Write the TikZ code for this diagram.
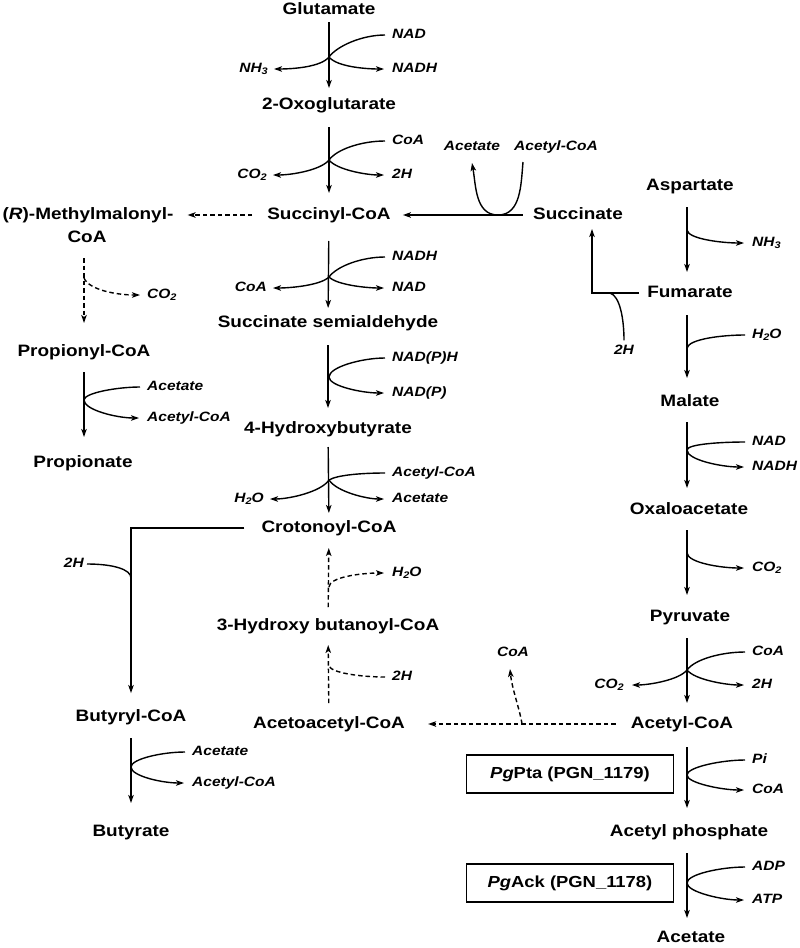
\documentclass[tikz,border=0pt]{standalone}
\usepackage{fontspec}
\setmainfont{Liberation Sans}[FakeStretch=1.15]
\usetikzlibrary{arrows.meta,calc}
\newcommand\sbs[1]{\raisebox{-2.2pt}{\fontsize{9.5}{10}\selectfont #1}}
\begin{document}
\begin{tikzpicture}[x=1pt,y=1pt,
  met/.style={font=\fontsize{16.5}{18}\selectfont\bfseries, inner sep=0pt, text height=12pt, text depth=3.5pt},
  lab/.style={font=\fontsize{13.5}{15}\selectfont\bfseries\itshape, inner sep=0pt, text height=10pt, text depth=3pt},
  rl/.style={lab, anchor=west},
  ll/.style={lab, anchor=east},
  ln/.style={line width=1.4pt},
  rx/.style={ln, -{Stealth[length=8pt,width=5.5pt,inset=2pt]}},
  dsh/.style={dash pattern=on 4.5pt off 3pt},
  enzbox/.style={draw, line width=1.1pt, minimum width=207pt, minimum height=38pt, inner sep=0pt,
     font=\fontsize{16}{18}\selectfont\bfseries}
]
\fill[white] (0,0) rectangle (800,-948);
\useasboundingbox (0,0) rectangle (800,-948);

% ---------- metabolites ----------
\node[met] (glu)   at (329,-10)  {Glutamate};
\node[met] (oxo)   at (329,-105) {2-Oxoglutarate};
\node[met] (scoa)  at (329,-215) {Succinyl-CoA};
\node[met] (ssa)   at (328,-323) {Succinate semialdehyde};
\node[met] (hb)    at (328,-429) {4-Hydroxybutyrate};
\node[met] (cro)   at (329,-528) {Crotonoyl-CoA};
\node[met] (hbc)   at (328,-626) {3-Hydroxy butanoyl-CoA};
\node[met] (aca)   at (329,-724) {Acetoacetyl-CoA};
\node[met] (mm)    at (88,-215)  {(\textit{R})-Methylmalonyl-};
\node[met] (mmc)   at (87,-238)  {CoA};
\node[met] (prop)  at (84,-352)  {Propionyl-CoA};
\node[met] (propt) at (83,-463)  {Propionate};
\node[met] (buco)  at (131,-717) {Butyryl-CoA};
\node[met] (buty)  at (131,-832) {Butyrate};
\node[met] (succ)  at (578,-215) {Succinate};
\node[met] (asp)   at (690,-186) {Aspartate};
\node[met] (fum)   at (690,-293) {Fumarate};
\node[met] (mal)   at (690,-402) {Malate};
\node[met] (oxa)   at (689,-510) {Oxaloacetate};
\node[met] (pyr)   at (690,-617) {Pyruvate};
\node[met] (acoa)  at (682,-724) {Acetyl-CoA};
\node[met] (acp)   at (689,-832) {Acetyl phosphate};
\node[met] (acet)  at (691,-938) {Acetate};

\node[enzbox] (pta) at (570,-774) {\textit{Pg}Pta (PGN\_1179)};
\node[enzbox] (ack) at (570,-883) {\textit{Pg}Ack (PGN\_1178)};

% ---------- side labels ----------
\node[rl] (l1a) at (392,-35)  {NAD};
\node[rl] (l1b) at (392,-69)  {NADH};
\node[ll] (l1c) at (268,-69)  {NH\sbs{3}};
\node[rl] (l2a) at (392,-141) {CoA};
\node[rl] (l2b) at (392,-175) {2H};
\node[ll] (l2c) at (267,-175) {CO\sbs{2}};
\node[rl] (l3a) at (392,-257) {NADH};
\node[rl] (l3b) at (392,-288) {NAD};
\node[ll] (l3c) at (267,-288) {CoA};
\node[rl] (l4a) at (392,-358) {NAD(P)H};
\node[rl] (l4b) at (392,-393) {NAD(P)};
\node[rl] (l5a) at (392,-473) {Acetyl-CoA};
\node[rl] (l5b) at (392,-499) {Acetate};
\node[ll] (l5c) at (264,-499) {H\sbs{2}O};
\node[rl] (l6)  at (392,-573) {H\sbs{2}O};
\node[rl] (l7)  at (392,-677) {2H};
\node[rl] (l8)  at (147,-295) {CO\sbs{2}};
\node[rl] (l9a) at (147,-387) {Acetate};
\node[rl] (l9b) at (147,-418) {Acetyl-CoA};
\node[rl] (l10a) at (192,-752) {Acetate};
\node[rl] (l10b) at (192,-783) {Acetyl-CoA};
\node[rl] (l11) at (752,-243) {NH\sbs{3}};
\node[rl] (l12) at (752,-335) {H\sbs{2}O};
\node[rl] (l13a) at (752,-442) {NAD};
\node[rl] (l13b) at (752,-467) {NADH};
\node[rl] (l14) at (752,-568) {CO\sbs{2}};
\node[rl] (l15a) at (752,-652) {CoA};
\node[rl] (l15b) at (752,-685) {2H};
\node[ll] (l15c) at (624,-685) {CO\sbs{2}};
\node[rl] (l16a) at (752,-760) {Pi};
\node[rl] (l16b) at (752,-790) {CoA};
\node[rl] (l17a) at (752,-867) {ADP};
\node[rl] (l17b) at (752,-900) {ATP};
\node[lab] (lua) at (472,-147) {Acetate};
\node[lab] (lub) at (556,-147) {Acetyl-CoA};
\node[lab] (lcoa) at (513,-653) {CoA};
\node[ll] (l2hb) at (84,-564) {2H};
\node[lab] (l2hf) at (624,-351) {2H};

% ---------- helper coordinates ----------
\coordinate (rc) at (687,0);
\coordinate (b1) at (329,-57);
\coordinate (b2) at (329,-160);
\coordinate (b3) at (329,-277);
\coordinate (b4) at (329,-377);
\coordinate (b5) at (329,-480);
\coordinate (b6) at (329,-587);
\coordinate (b7) at (329,-665);
\coordinate (b8) at (84,-278);
\coordinate (b9) at (84,-400);
\coordinate (b10) at (131,-767);
\coordinate (b11) at (687,-230);
\coordinate (b12) at (687,-348);
\coordinate (b13) at (687,-450);
\coordinate (b14) at (687,-553);
\coordinate (b15) at (687,-670);
\coordinate (b16) at (687,-775);
\coordinate (b17) at (687,-883);
\coordinate (bb) at (131,-578);
\coordinate (fc) at (592,-293);
\coordinate (bf) at (610,-293);
\coordinate (ua) at (523,-162);
\coordinate (ub) at (498,-215);
\coordinate (uc) at (472,-163);
\coordinate (bcoa) at (522,-724);
\coordinate (tcoa) at (510,-669);

% ---------- centre column ----------
\draw[rx, shorten <=12pt, shorten >=17pt] (glu.center) -- (oxo.center);
\draw[ln, shorten <=7pt] (l1a.west) .. controls +(-30,0) and +(8,11) .. (b1);
\draw[rx, shorten >=6pt] (b1) .. controls +(-8,-10) and +(25,0) .. (l1c.east);
\draw[rx, shorten >=8pt] (b1) .. controls +(8,-10) and +(-25,0) .. (l1b.west);

\draw[rx, shorten <=22pt, shorten >=22pt] (oxo.center) -- (scoa.center);
\draw[ln, shorten <=7pt] (l2a.west) .. controls +(-30,0) and +(8,11) .. (b2);
\draw[rx, shorten >=6pt] (b2) .. controls +(-8,-10) and +(25,0) .. (l2c.east);
\draw[rx, shorten >=8pt] (b2) .. controls +(8,-10) and +(-25,0) .. (l2b.west);

\draw[rx, shorten <=26pt, shorten >=15pt] (scoa.center) -- (ssa.center);
\draw[ln, shorten <=7pt] (l3a.west) .. controls +(-30,0) and +(8,11) .. (b3);
\draw[rx, shorten >=6pt] (b3) .. controls +(-8,-8) and +(25,0) .. (l3c.east);
\draw[rx, shorten >=8pt] (b3) .. controls +(8,-8) and +(-25,0) .. (l3b.west);

\draw[rx, shorten <=22pt, shorten >=21pt] (ssa.center) -- (hb.center);
\draw[rx, shorten <=7pt, shorten >=8pt] (l4a.west) .. controls +(-30,0) and +(0,10) .. (b4) .. controls +(0,-9) and +(-30,0) .. (l4b.west);

\draw[rx, shorten <=18pt, shorten >=15pt] (hb.center) -- (cro.center);
\draw[ln, shorten <=7pt] (l5a.west) .. controls +(-30,0) and +(8,5) .. (b5);
\draw[rx, shorten >=6pt] (b5) .. controls +(-8,-12) and +(25,0) .. (l5c.east);
\draw[rx, shorten >=8pt] (b5) .. controls +(8,-12) and +(-25,0) .. (l5b.west);

\draw[rx, dsh, shorten <=19pt, shorten >=20pt] (hbc.center) -- (cro.center);
\draw[rx, dsh, shorten >=8pt] (b6) .. controls +(0,10) and +(-30,0) .. (l6.west);

\draw[rx, dsh, shorten <=21pt, shorten >=19pt] (aca.center) -- (hbc.center);
\draw[ln, dsh, shorten <=7pt] (l7.west) .. controls +(-30,0) and +(0,-8) .. (b7);

% ---------- horizontal links ----------
\draw[rx, shorten <=10pt, shorten >=12pt] (succ.west) -- (scoa.east);
\draw[rx] (ua) to[out=-95,in=0] (ub) to[out=180,in=-80] (uc);
\draw[rx, dsh, shorten <=15pt, shorten >=14pt] (scoa.west) -- (mm.east);
\draw[rx, dsh, shorten <=15pt, shorten >=23pt] (acoa.west) -- (aca.east);
\draw[rx, dsh] (bcoa) .. controls +(-2,14) and +(2,-20) .. (tcoa);

% ---------- left column ----------
\draw[rx, dsh, shorten <=20pt, shorten >=29pt] (prop |- mmc.center) -- (prop.center);
\draw[rx, dsh, shorten >=7pt] (b8) .. controls +(5,-12) and +(-30,0) .. (l8.west);
\draw[rx, shorten <=20pt, shorten >=26pt] (prop.center) -- (prop |- propt.center);
\draw[rx, shorten <=7pt, shorten >=8pt] (l9a.west) .. controls +(-30,0) and +(0,7) .. (b9) .. controls +(0,-10) and +(-30,0) .. (l9b.west);

\draw[rx, shorten <=17pt, shorten >=16pt] (cro.west) -| (buco.north);
\draw[ln, shorten <=3pt] (l2hb.east) .. controls +(28,0) and +(0,9) .. (bb);
\draw[rx, shorten <=21pt, shorten >=29pt] (buco.center) -- (buty.center);
\draw[rx, shorten <=7pt, shorten >=8pt] (l10a.west) .. controls +(-30,0) and +(0,8) .. (b10) .. controls +(0,-9) and +(-30,0) .. (l10b.west);

% ---------- right column ----------
\draw[rx, shorten <=21pt, shorten >=21pt] (asp.center -| rc) -- (fum.center -| rc);
\draw[rx, shorten >=8pt] (b11) .. controls +(1,-9) and +(-30,0) .. (l11.west);

\draw[rx, shorten <=8pt, shorten >=14pt] (fum.west) -- (fc) -- (fc |- succ.center);
\draw[ln, shorten >=4pt] (bf) .. controls +(10,-3) and +(0,25) .. (l2hf.north);

\draw[rx, shorten <=22pt, shorten >=24pt] (fum.center -| rc) -- (mal.center -| rc);
\draw[ln, shorten <=7pt] (l12.west) .. controls +(-30,0) and +(2,9) .. (b12);

\draw[rx, shorten <=20pt, shorten >=22pt] (mal.center -| rc) -- (oxa.center -| rc);
\draw[rx, shorten <=7pt, shorten >=8pt] (l13a.west) .. controls +(-30,0) and +(0,6) .. (b13) .. controls +(0,-10) and +(-30,0) .. (l13b.west);

\draw[rx, shorten <=20pt, shorten >=22pt] (oxa.center -| rc) -- (pyr.center -| rc);
\draw[rx, shorten >=8pt] (b14) .. controls +(1,-10) and +(-30,0) .. (l14.west);

\draw[rx, shorten <=21pt, shorten >=21pt] (pyr.center -| rc) -- (acoa.center -| rc);
\draw[ln, shorten <=7pt] (l15a.west) .. controls +(-30,0) and +(8,11) .. (b15);
\draw[rx, shorten >=8pt] (b15) .. controls +(-8,-10) and +(25,0) .. (l15c.east);
\draw[rx, shorten >=8pt] (b15) .. controls +(8,-10) and +(-25,0) .. (l15b.west);

\draw[rx, shorten <=23pt, shorten >=24pt] (acoa.center -| rc) -- (acp.center -| rc);
\draw[rx, shorten <=7pt, shorten >=8pt] (l16a.west) .. controls +(-30,0) and +(0,8) .. (b16) .. controls +(0,-8) and +(-30,0) .. (l16b.west);

\draw[rx, shorten <=21pt, shorten >=20pt] (acp.center -| rc) -- (acet.center -| rc);
\draw[rx, shorten <=7pt, shorten >=8pt] (l17a.west) .. controls +(-30,0) and +(0,9) .. (b17) .. controls +(0,-9) and +(-30,0) .. (l17b.west);
\end{tikzpicture}
\end{document}
